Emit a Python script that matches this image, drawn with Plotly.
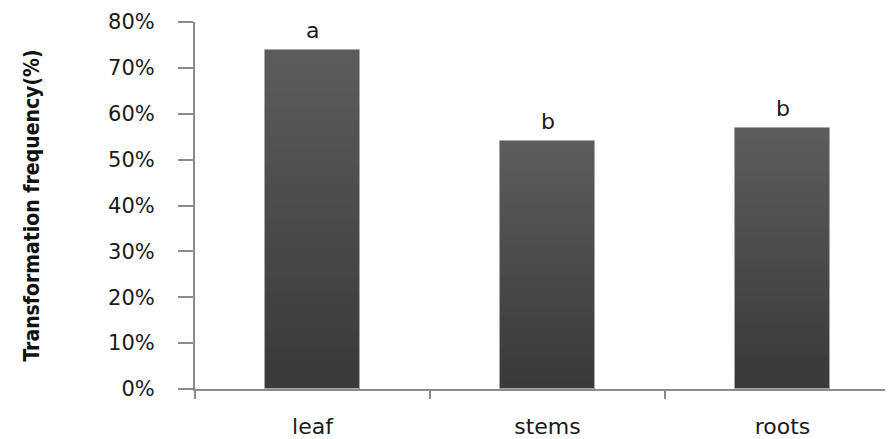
import plotly.graph_objects as go

categories = ["leaf", "stems", "roots"]
values = [0.74, 0.54, 0.57]
letters = ["a", "b", "b"]
y_ticks = [0, 0.1, 0.2, 0.3, 0.4, 0.5, 0.6, 0.7, 0.8]
y_title = "Transformation frequency(%)"

# page body has an 8px margin; compensate so the chart sits like the reference
OFF = 8
W, H = 893 - OFF, 439 - OFF
L, T, B = 195 - OFF, 22 - OFF, 50

fig = go.Figure()

# gradient bars: overlaid layers, lighter at top, darker toward base
N = 24
top_rgb = 92
bot_rgb = 56
for k in range(N):
    frac = 1 - k / N
    c = int(round(bot_rgb + (top_rgb - bot_rgb) * frac))
    fig.add_trace(go.Bar(
        x=categories,
        y=[v * frac for v in values],
        width=0.405,
        marker=dict(color=f"rgb({c},{c},{c})", line=dict(width=0)),
        hoverinfo="skip",
        showlegend=False,
    ))

# outline
fig.add_trace(go.Bar(
    x=categories, y=values, width=0.405,
    marker=dict(color="rgba(0,0,0,0)", line=dict(color="#a8a8a8", width=1)),
    showlegend=False,
))

for cat, v, t in zip(categories, values, letters):
    fig.add_annotation(x=cat, y=v, text=t, showarrow=False, yanchor="bottom",
                       yshift=5, font=dict(family="DejaVu Sans", size=22, color="#1a1a1a"))

fig.add_annotation(xref="paper", yref="paper", x=(31 - 195) / (893 - 195), y=0.5,
                   text=y_title, textangle=-90, showarrow=False,
                   xanchor="center", yanchor="middle",
                   font=dict(family="DejaVu Sans Condensed, Liberation Sans Narrow, sans-serif",
                             size=21, color="#111111", weight="bold"))

fig.update_layout(
    width=W, height=H,
    margin=dict(l=L, r=0, t=T, b=B, autoexpand=False),
    paper_bgcolor="white", plot_bgcolor="white",
    barmode="overlay",
    bargap=0,
    showlegend=False,
)

fig.update_xaxes(
    type="category",
    range=[-0.5, 2.5 - 7 / 235],
    showline=True, linecolor="#8c8c8c", linewidth=2,
    ticks="outside", tickson="boundaries", ticklen=8, tickwidth=2, tickcolor="#8c8c8c",
    tickfont=dict(family="DejaVu Sans", size=22, color="#1a1a1a"),
    ticklabelstandoff=17,
    showgrid=False, zeroline=False,
)

fig.update_yaxes(
    range=[0, 0.8],
    tickvals=y_ticks,
    tickformat=".0%",
    showline=True, linecolor="#8c8c8c", linewidth=2,
    ticks="outside", ticklen=15, tickwidth=2, tickcolor="#8c8c8c",
    tickfont=dict(family="DejaVu Sans", size=21, color="#1a1a1a"),
    ticklabelstandoff=19,
    showgrid=False, zeroline=False,
)

fig.write_html("out.html")
